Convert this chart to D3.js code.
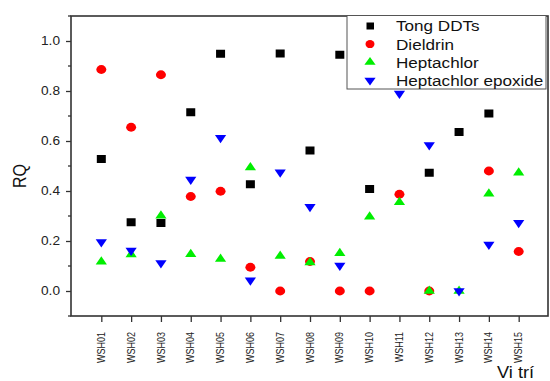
<!DOCTYPE html>
<html>
<head>
<meta charset="utf-8">
<script src="https://cdn.jsdelivr.net/npm/d3@7"></script>
<style>
  body { margin: 0; background: #fff; }
  svg { display: block; }
  svg text { font-family: Arial, "Liberation Sans", sans-serif; }
</style>
</head>
<body>
<svg width="550" height="381"></svg>
<script>
const sites = ['WSH01','WSH02','WSH03','WSH04','WSH05','WSH06','WSH07','WSH08',
               'WSH09','WSH10','WSH11','WSH12','WSH13','WSH14','WSH15'];
const tongDDTs   = [0.528, 0.275, 0.272, 0.715, 0.949, 0.427, 0.950, 0.562, 0.945, 0.408, 0.97, 0.473, 0.636, 0.710, 0.90];
const dieldrin   = [0.886, 0.655, 0.865, 0.378, 0.399, 0.095, 0.0, 0.118, 0.0, 0.0, 0.387, 0.0, null, 0.480, 0.158];
const heptachlor = [0.117, 0.146, 0.301, 0.147, 0.128, 0.494, 0.140, 0.114, 0.151, 0.297, 0.355, 0.0, 0.0, 0.389, 0.473];
const heptEpox   = [0.196, 0.162, 0.112, 0.446, 0.613, 0.043, 0.475, 0.337, 0.102, null, 0.790, 0.584, 0.0, 0.186, 0.273];
const yTicks = [0.0, 0.2, 0.4, 0.6, 0.8, 1.0];
const yMinor = [-0.1, 0.1, 0.3, 0.5, 0.7, 0.9, 1.1];

const svg = d3.select('svg');
const plotLeft = 71, plotRight = 548, plotTop = 16, plotBottom = 316;
const sx = 1.14; // the picture is stretched sideways a bit

const x = d3.scaleLinear().domain([0, sites.length + 1]).range([plotLeft + 0.5, plotRight + 0.5]);
const y = d3.scaleLinear().domain([-0.1, 1.1]).range([plotBottom, plotTop]);

function stretchedText(g, tx, ty, str, rot) {
  return g.append('text')
    .attr('transform', `translate(${tx},${ty}) scale(${sx},1)` + (rot ? ` rotate(${rot})` : ''))
    .text(str);
}

// y axis
const yAxis = svg.append('g').attr('transform', `translate(${plotLeft},0)`)
  .call(d3.axisLeft(y).tickValues(yTicks).tickSize(5).tickFormat(d3.format('.1f')));
yAxis.select('.domain').remove();
yAxis.selectAll('line').attr('stroke', '#333').attr('stroke-width', 1.3);
yAxis.selectAll('text').remove();
yTicks.forEach(t => {
  stretchedText(yAxis, -11, y(t), d3.format('.1f')(t))
    .style('text-anchor', 'end').attr('dy', '0.35em')
    .attr('font-size', 12).attr('fill', '#222');
});
yAxis.selectAll('.minor').data(yMinor).enter().append('line')
  .attr('class', 'minor')
  .attr('x1', -3).attr('x2', 0)
  .attr('y1', d => y(d)).attr('y2', d => y(d))
  .attr('stroke', '#333').attr('stroke-width', 1.3);

// x axis
const xAxis = svg.append('g').attr('transform', `translate(0,${plotBottom})`)
  .call(d3.axisBottom(x).tickValues(d3.range(1, sites.length + 1)).tickSize(6).tickFormat(''));
xAxis.select('.domain').remove();
xAxis.selectAll('line').attr('stroke', '#333').attr('stroke-width', 1.3);
xAxis.selectAll('text').remove();
sites.forEach((s, i) => {
  stretchedText(xAxis, x(i + 1), 16, s, -90)
    .style('text-anchor', 'end').attr('dy', '0.35em')
    .style('font-size', '9px').attr('fill', '#222');
});

// frame
svg.append('rect')
  .attr('x', plotLeft).attr('y', plotTop)
  .attr('width', plotRight - plotLeft).attr('height', plotBottom - plotTop)
  .attr('fill', 'none').attr('stroke', '#333').attr('stroke-width', 1.6);

// axis titles
stretchedText(svg, 26, 176, 'RQ', -90)
  .attr('text-anchor', 'middle').attr('font-size', 16).attr('fill', '#111');
stretchedText(svg, 497, 378, 'Vi trí')
  .attr('font-size', 16).attr('fill', '#111');

// markers
const plot = svg.append('g');
const tri = d3.symbol().type(d3.symbolTriangle).size(42);

function drawSeries(values, kind, color) {
  const g = plot.append('g');
  const pts = values.map((v, i) => ({ i, v })).filter(d => d.v !== null);
  if (kind === 'square') {
    g.selectAll('rect').data(pts).enter().append('rect')
      .attr('x', d => x(d.i + 1) - 4.5).attr('y', d => y(d.v) - 4)
      .attr('width', 9).attr('height', 8).attr('fill', color);
  } else if (kind === 'circle') {
    g.selectAll('ellipse').data(pts).enter().append('ellipse')
      .attr('cx', d => x(d.i + 1)).attr('cy', d => y(d.v))
      .attr('rx', 5).attr('ry', 4.4).attr('fill', color);
  } else {
    const rot = kind === 'down' ? 180 : 0;
    g.selectAll('path').data(pts).enter().append('path')
      .attr('d', tri)
      .attr('transform', d => `translate(${x(d.i + 1)},${y(d.v)}) scale(${sx},0.95) rotate(${rot})`)
      .attr('fill', color);
  }
}
drawSeries(tongDDTs, 'square', '#000000');
drawSeries(dieldrin, 'circle', '#ff0000');
drawSeries(heptachlor, 'up', '#00ee00');
drawSeries(heptEpox, 'down', '#0000ff');

// legend
const legendItems = [
  { name: 'Tong DDTs', kind: 'square', color: '#000000' },
  { name: 'Dieldrin', kind: 'circle', color: '#ff0000' },
  { name: 'Heptachlor', kind: 'up', color: '#00ee00' },
  { name: 'Heptachlor epoxide', kind: 'down', color: '#0000ff' }
];
const lg = svg.append('g');
lg.append('rect')
  .attr('x', 347).attr('y', 15.5).attr('width', 199).attr('height', 73.5)
  .attr('fill', '#fff').attr('stroke', '#555').attr('stroke-width', 1);
legendItems.forEach((it, k) => {
  const cy = 26 + k * 18.1;
  if (it.kind === 'square') {
    lg.append('rect').attr('x', 366.5).attr('y', cy - 3.5).attr('width', 7.5).attr('height', 7).attr('fill', it.color);
  } else if (it.kind === 'circle') {
    lg.append('ellipse').attr('cx', 370).attr('cy', cy).attr('rx', 4.5).attr('ry', 4).attr('fill', it.color);
  } else {
    lg.append('path').attr('d', tri)
      .attr('transform', `translate(370,${cy}) scale(${sx},0.9) rotate(${it.kind === 'down' ? 180 : 0})`)
      .attr('fill', it.color);
  }
  stretchedText(lg, 396, cy, it.name)
    .attr('dy', '0.36em').attr('font-size', 15).attr('fill', '#111');
});
</script>
</body>
</html>
